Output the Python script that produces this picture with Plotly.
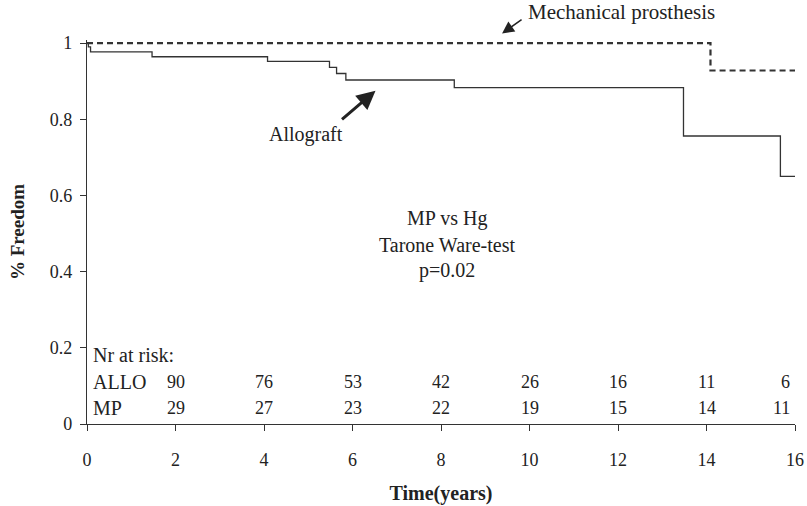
import plotly.graph_objects as go

# Kaplan-Meier step curves (time in years, freedom from event)
allo_time = [0, 0.03, 0.08, 1.47, 4.08, 5.48, 5.64, 5.85, 8.30, 13.48, 15.67, 16]
allo_surv = [1.0, 0.99, 0.977, 0.964, 0.952, 0.936, 0.920, 0.903, 0.883, 0.756, 0.650, 0.650]
mp_time = [0, 14.09, 16]
mp_surv = [1.0, 0.928, 0.928]

# Numbers at risk
risk_times = [2, 4, 6, 8, 10, 12, 14, 16]
allo_risk = [90, 76, 53, 42, 26, 16, 11, 6]
mp_risk = [29, 27, 23, 22, 19, 15, 14, 11]

x_ticks = [0, 2, 4, 6, 8, 10, 12, 14, 16]
y_ticks = [0, 0.2, 0.4, 0.6, 0.8, 1]
y_ticklabels = ["0", "0.2", "0.4", "0.6", "0.8", "1"]

FONT = "Liberation Serif, Times New Roman, serif"
INK = "#222222"
LINE = "#333333"
TXT = dict(family=FONT, size=20, color=INK)
NUM = dict(family=FONT, size=18, color=INK)

fig = go.Figure()
fig.add_trace(go.Scatter(
    x=allo_time, y=allo_surv, mode="lines", line_shape="hv",
    line=dict(color=LINE, width=1.3), showlegend=False))
fig.add_trace(go.Scatter(
    x=mp_time, y=mp_surv, mode="lines", line_shape="hv",
    line=dict(color=LINE, width=2.2, dash="6px,4px"), showlegend=False))

ann = []
# series labels with arrows
ann.append(dict(x=9.38, y=1.017, xref="x", yref="paper", text="", showarrow=True,
                ax=21, ay=-15, arrowhead=2, arrowsize=1.6, arrowwidth=1.5, arrowcolor=INK))
ann.append(dict(x=9.91, y=1.074, xref="x", yref="paper", text="Mechanical prosthesis",
                showarrow=False, xanchor="left", yanchor="middle",
                font=dict(family=FONT, size=21, color=INK)))
ann.append(dict(x=6.52, y=0.875, xref="x", yref="y", text="", showarrow=True,
                ax=-35, ay=30, arrowhead=2, arrowsize=1.25, arrowwidth=3, arrowcolor=INK))
ann.append(dict(x=4.96, y=0.759, xref="x", yref="y", text="Allograft",
                showarrow=False, xanchor="center", yanchor="middle", font=TXT))

# test result
for txt, yy in [("MP vs Hg", 0.539), ("Tarone Ware-test", 0.470), ("p=0.02", 0.402)]:
    ann.append(dict(x=8.13, y=yy, xref="x", yref="y", text=txt, showarrow=False,
                    xanchor="center", yanchor="middle", font=TXT))

# numbers-at-risk table
for label, yy in [("Nr at risk:", 0.181), ("ALLO", 0.111), ("MP", 0.041)]:
    ann.append(dict(x=0.08, y=yy, xref="x", yref="y", text=label, showarrow=False,
                    xanchor="left", yanchor="middle", font=TXT))
for row, yy in [(allo_risk, 0.111), (mp_risk, 0.041)]:
    for t, n in zip(risk_times, row):
        last = t == risk_times[-1]
        ann.append(dict(x=t, y=yy, xref="x", yref="y", text=str(n), showarrow=False,
                        xanchor="right" if last else "center", xshift=-3 if last else 0,
                        yanchor="middle", font=NUM))

fig.update_layout(
    width=807, height=506,
    margin=dict(l=87, r=12, t=40, b=82),
    paper_bgcolor="white", plot_bgcolor="white",
    font=TXT,
    annotations=ann,
    showlegend=False,
)
fig.update_xaxes(
    range=[0, 16], tickvals=x_ticks, ticktext=[str(v) for v in x_ticks],
    showgrid=False, zeroline=False, showline=True, linecolor=LINE, linewidth=1.3,
    ticks="outside", ticklen=6, tickcolor=LINE, tickwidth=1.2,
    tickfont=NUM, ticklabelstandoff=13, automargin=False,
    title=dict(text="<b>Time(years)</b>", font=dict(family=FONT, size=20, color=INK), standoff=17),
)
fig.update_yaxes(
    range=[0, 1.008], tickvals=y_ticks, ticktext=y_ticklabels,
    showgrid=False, zeroline=False, showline=True, linecolor=LINE, linewidth=1.3,
    ticks="outside", ticklen=6, tickcolor=LINE, tickwidth=1.2,
    tickfont=NUM, ticklabelstandoff=4, automargin=False,
    title=dict(text="<b>% Freedom</b>", font=dict(family=FONT, size=19, color=INK), standoff=20),
)

fig.write_html("out.html")
